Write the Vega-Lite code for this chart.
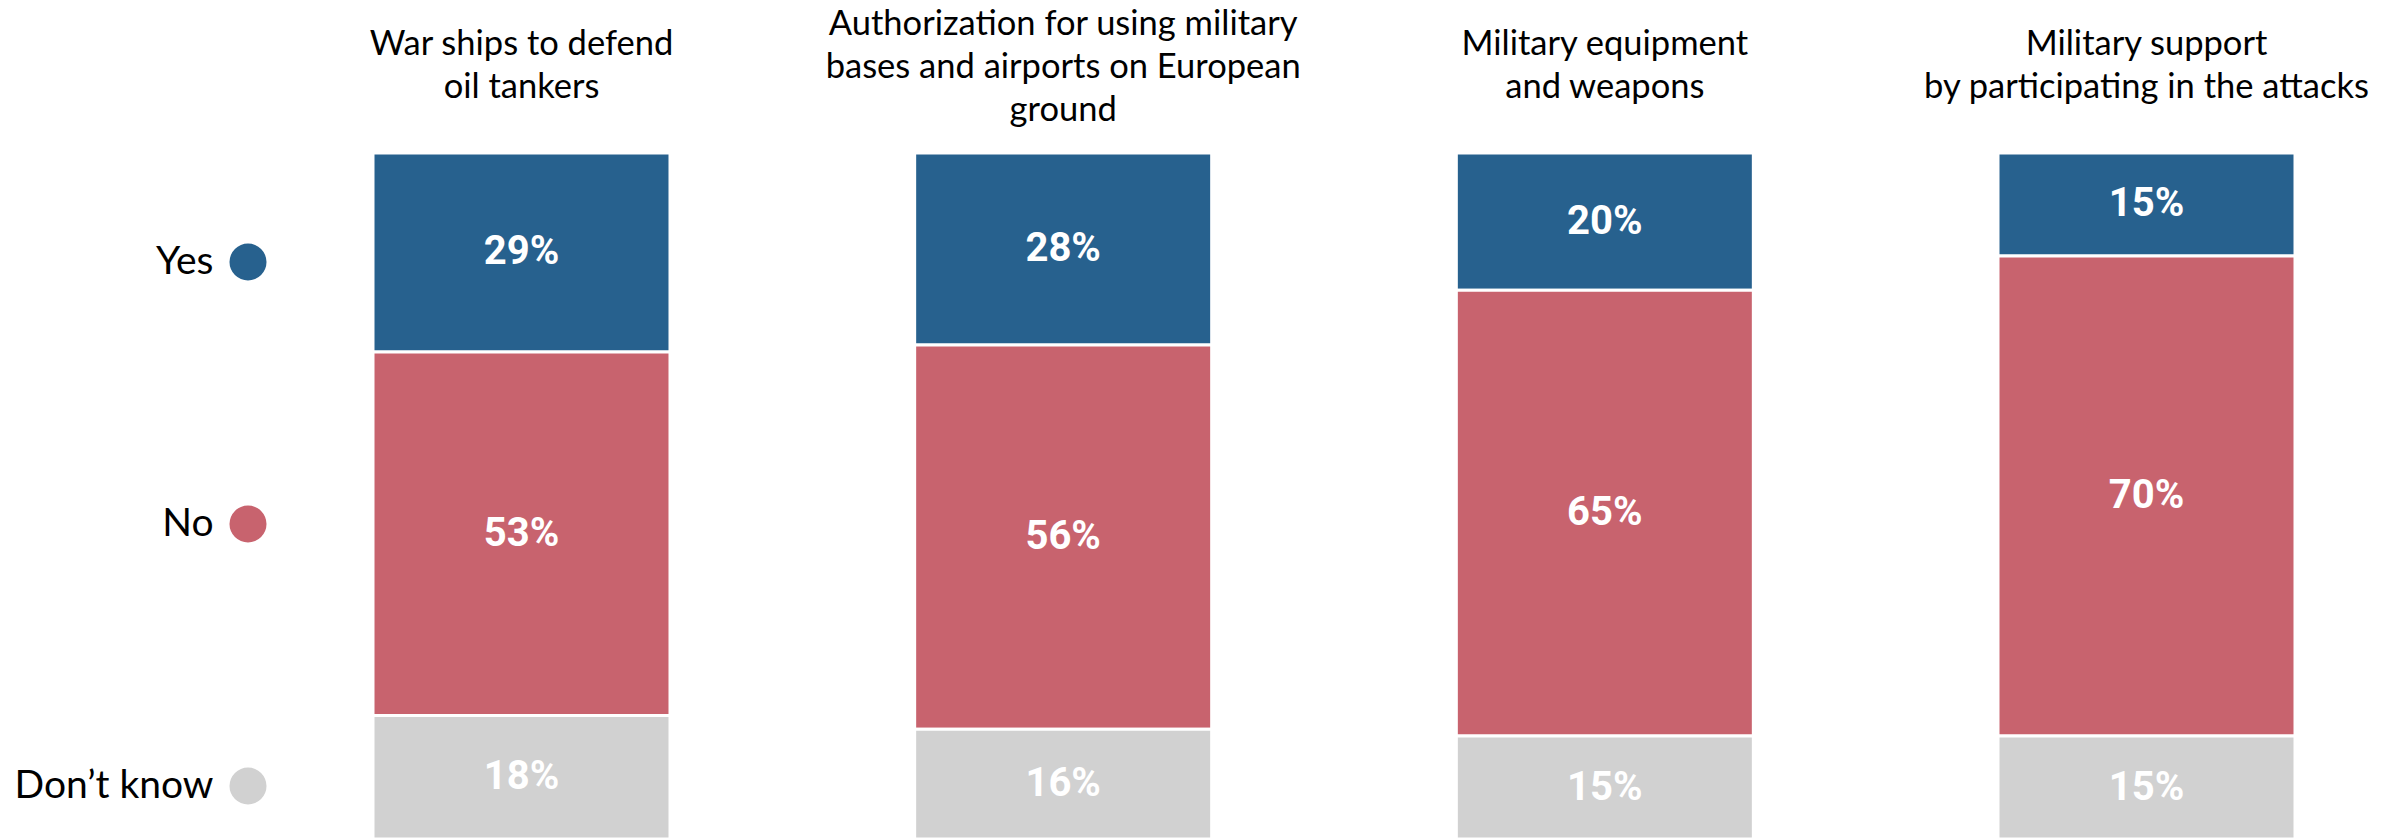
{
  "$schema": "https://vega.github.io/schema/vega-lite/v6.json",
  "width": 1922,
  "height": 686,
  "autosize": {"type": "none"},
  "padding": {"left": 373, "top": 153, "right": 92, "bottom": 0},
  "background": "white",
  "config": {"view": {"stroke": null}, "font": "Lato"},
  "data": {
    "values": [
      {"q": "War ships to defend|oil tankers", "a": "Yes", "pct": 0.29},
      {"q": "War ships to defend|oil tankers", "a": "No", "pct": 0.53},
      {"q": "War ships to defend|oil tankers", "a": "Don’t know", "pct": 0.18},
      {"q": "Authorization for using military|bases and airports on European|ground", "a": "Yes", "pct": 0.28},
      {"q": "Authorization for using military|bases and airports on European|ground", "a": "No", "pct": 0.56},
      {"q": "Authorization for using military|bases and airports on European|ground", "a": "Don’t know", "pct": 0.16},
      {"q": "Military equipment|and weapons", "a": "Yes", "pct": 0.20},
      {"q": "Military equipment|and weapons", "a": "No", "pct": 0.65},
      {"q": "Military equipment|and weapons", "a": "Don’t know", "pct": 0.15},
      {"q": "Military support|by participating in the attacks", "a": "Yes", "pct": 0.15},
      {"q": "Military support|by participating in the attacks", "a": "No", "pct": 0.70},
      {"q": "Military support|by participating in the attacks", "a": "Don’t know", "pct": 0.15}
    ]
  },
  "transform": [
    {"stack": "pct", "groupby": ["q"], "sort": [{"field": "a", "order": "descending"}], "as": ["y0", "y1"]},
    {"calculate": "(datum.y0 + datum.y1) / 2", "as": "ym"}
  ],
  "encoding": {
    "x": {
      "field": "q",
      "type": "nominal",
      "sort": null,
      "scale": {"paddingInner": 0.4517, "paddingOuter": 0},
      "axis": {
        "orient": "top",
        "title": null,
        "domain": false,
        "ticks": false,
        "tickSize": 0,
        "labelExpr": "split(datum.label, '|')",
        "labelFont": "Lato",
        "labelFontSize": 34.5,
        "labelColor": "black",
        "labelBaseline": "middle",
        "labelPadding": {"condition": {"test": "indexof(datum.label, 'ground') >= 0", "value": 129}, "value": 109},
        "labelLineHeight": 43,
        "labelLimit": 800,
        "labelAngle": 0,
        "labelOverlap": false
      }
    }
  },
  "layer": [
    {
      "mark": {"type": "bar", "stroke": "white", "strokeWidth": 3},
      "encoding": {
        "y": {"field": "y0", "type": "quantitative", "scale": {"domain": [0, 1], "reverse": true, "nice": false}, "axis": null},
        "y2": {"field": "y1"},
        "color": {
          "field": "a",
          "type": "nominal",
          "scale": {"domain": ["Yes", "No", "Don’t know"], "range": ["#27618E", "#C8636E", "#D1D1D1"]},
          "legend": {
            "orient": "none",
            "legendX": -144.5,
            "legendY": 89.5,
            "title": null,
            "padding": 0,
            "symbolType": "circle",
            "symbolSize": 1370,
            "symbolStrokeWidth": 0,
            "symbolOpacity": 1,
            "labelFont": "Lato",
            "labelFontSize": 39,
            "labelColor": "black",
            "labelAlign": "right",
            "labelOffset": -54,
            "labelLimit": 400,
            "rowPadding": 222
          }
        }
      }
    },
    {
      "mark": {"type": "text", "color": "white", "font": "Roboto", "fontWeight": "bold", "fontSize": 40, "baseline": "middle"},
      "encoding": {
        "y": {"field": "ym", "type": "quantitative"},
        "text": {"field": "pct", "type": "quantitative", "format": ".0%"}
      }
    }
  ]
}
